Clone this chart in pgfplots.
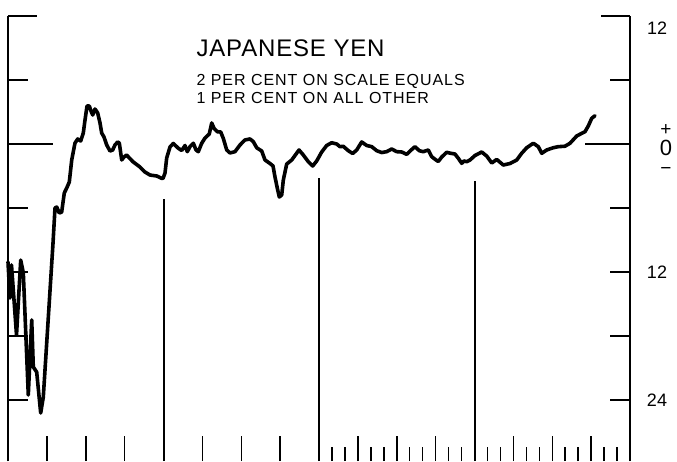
\documentclass[border=0pt]{standalone}
\usepackage{fontspec}
\setmainfont{Liberation Sans}
\usepackage{pgfplots}
\pgfplotsset{compat=1.18}

% yen, deviation in per cent (2 per cent on scale = 1 per cent elsewhere)
\pgfplotstableread{
x y
0.000 -11.06
0.050 -14.44
0.090 -11.34
0.136 -13.69
0.219 -17.91
0.327 -10.88
0.394 -12.09
0.522 -23.53
0.610 -16.50
0.651 -20.91
0.738 -21.38
0.841 -25.22
0.908 -23.72
1.158 -9.28
1.209 -6.00
1.253 -5.91
1.320 -6.47
1.381 -6.38
1.448 -4.59
1.510 -4.13
1.577 -3.56
1.639 -1.50
1.723 0.09
1.793 0.47
1.870 0.28
1.937 1.03
1.981 2.25
2.032 3.56
2.091 3.56
2.135 3.09
2.179 2.72
2.238 3.28
2.307 2.91
2.367 1.97
2.410 1.03
2.469 0.66
2.539 -0.09
2.624 -0.66
2.693 -0.56
2.752 -0.09
2.822 0.19
2.863 0.09
2.925 -1.50
2.984 -1.22
3.053 -1.03
3.120 -1.31
3.223 -1.69
3.395 -2.16
3.524 -2.63
3.653 -2.91
3.825 -3.00
3.954 -3.22
3.987 -3.23
4.039 -2.72
4.082 -1.31
4.167 -0.28
4.252 0.05
4.381 -0.40
4.468 -0.61
4.553 -0.14
4.612 -0.72
4.682 -0.25
4.767 0.07
4.836 -0.56
4.895 -0.72
4.983 0.07
5.068 0.56
5.178 0.94
5.240 1.97
5.299 1.47
5.384 1.15
5.471 1.13
5.538 0.53
5.626 -0.56
5.711 -0.84
5.839 -0.72
5.968 -0.09
6.096 0.38
6.225 0.47
6.310 0.22
6.397 -0.35
6.526 -0.66
6.611 -1.50
6.740 -1.83
6.817 -2.06
6.868 -3.09
6.927 -4.13
6.979 -4.97
7.041 -4.78
7.082 -3.38
7.169 -1.88
7.298 -1.50
7.486 -0.56
7.596 -1.03
7.725 -1.66
7.838 -2.06
7.941 -1.59
8.069 -0.75
8.198 -0.14
8.327 0.12
8.455 0.00
8.540 -0.25
8.625 -0.22
8.754 -0.63
8.867 -0.89
8.970 -0.56
9.098 0.19
9.227 -0.14
9.356 -0.25
9.484 -0.63
9.613 -0.80
9.741 -0.72
9.870 -0.47
9.999 -0.72
10.127 -0.75
10.256 -0.97
10.341 -0.66
10.469 -0.25
10.580 -0.63
10.683 -0.72
10.811 -0.56
10.899 -1.19
11.010 -1.50
11.069 -1.64
11.156 -1.22
11.285 -0.78
11.388 -0.87
11.498 -0.94
11.583 -1.34
11.671 -1.81
11.730 -1.59
11.799 -1.66
11.884 -1.50
12.013 -1.08
12.185 -0.75
12.314 -1.13
12.443 -1.78
12.571 -1.45
12.741 -1.97
12.913 -1.83
13.086 -1.50
13.214 -0.87
13.343 -0.35
13.513 0.07
13.641 -0.25
13.729 -0.87
13.857 -0.56
14.027 -0.35
14.156 -0.25
14.328 -0.21
14.457 0.07
14.629 0.75
14.758 1.00
14.842 1.15
14.927 1.69
15.015 2.41
15.100 2.65
}\yen

\pgfplotsset{
  yenframe/.style={
    scale only axis, width=622pt, height=445pt,
    xmin=0, xmax=16, ymin=-29.72, ymax=12,
    clip=false,
    separate axis lines,
    x axis line style={draw=none},
    y axis line style={line width=2pt},
    tick align=inside,
    tick style={black, line width=1.5pt},
  },
}

\begin{document}
\begin{tikzpicture}
\begin{axis}[yenframe,
  xtick={1,...,15}, xticklabels={}, xtick pos=bottom,
  minor xtick={8.333,8.667,9.333,9.667,10.333,10.667,11.333,11.667,
    12.333,12.667,13.333,13.667,14.333,14.667,15.333,15.667},
  major tick length=25pt, minor tick length=14pt,
  ytick=\empty,
  extra y ticks={0}, extra y tick labels={},
  extra y tick style={major tick length=45pt},
]
  \addplot[black, line width=2pt] coordinates {(4,-5.2) (4,-29.72)};
  \addplot[black, line width=2pt] coordinates {(8,-3.2) (8,-29.72)};
  \addplot[black, line width=2pt] coordinates {(12,-3.5) (12,-29.72)};
  \addplot[black, line width=3.6pt, line join=round, line cap=round] table[x=x, y=y] {\yen};

  \node[anchor=base west, font=\fontsize{24}{28}\selectfont\addfontfeatures{LetterSpace=3.5}]
    at (axis cs:4.759,8.156) {JAPANESE YEN};
  \node[anchor=base west, font=\fontsize{16}{19}\selectfont\addfontfeatures{LetterSpace=6}]
    at (axis cs:4.759,5.44) {2 PER CENT ON SCALE EQUALS};
  \node[anchor=base west, font=\fontsize{16}{19}\selectfont\addfontfeatures{LetterSpace=6}]
    at (axis cs:4.759,3.75) {1 PER CENT ON ALL OTHER};

  \node[anchor=center, font=\fontsize{18}{18}\selectfont] at (axis cs:16.695,10.875) {12};
  \node[anchor=center, inner sep=0pt, font=\fontsize{19}{19}\selectfont] at (axis cs:16.926,1.35) {+};
  \node[anchor=center, inner sep=0pt, font=\fontsize{22}{22}\selectfont] at (axis cs:16.926,-0.4) {0};
  \node[anchor=center, inner sep=0pt, font=\fontsize{19}{19}\selectfont] at (axis cs:16.926,-2.55) {−};

  \coordinate (bl) at (rel axis cs:0,0);
  \coordinate (tr) at (rel axis cs:1,1);
\end{axis}
\begin{axis}[yenframe,
  xtick=\empty,
  ytick={-24,-18,-12,-6,6}, yticklabels={24,,12,,},
  minor ytick={12},
  major tick length=20pt, minor tick length=29pt,
  yticklabel pos=right,
  yticklabel style={anchor=center, xshift=27pt, font=\fontsize{18}{18}\selectfont},
]
\end{axis}
\pgfresetboundingbox
\path (bl) ++(-8pt,0pt) (tr) ++(47pt,16pt);
\end{tikzpicture}
\end{document}
